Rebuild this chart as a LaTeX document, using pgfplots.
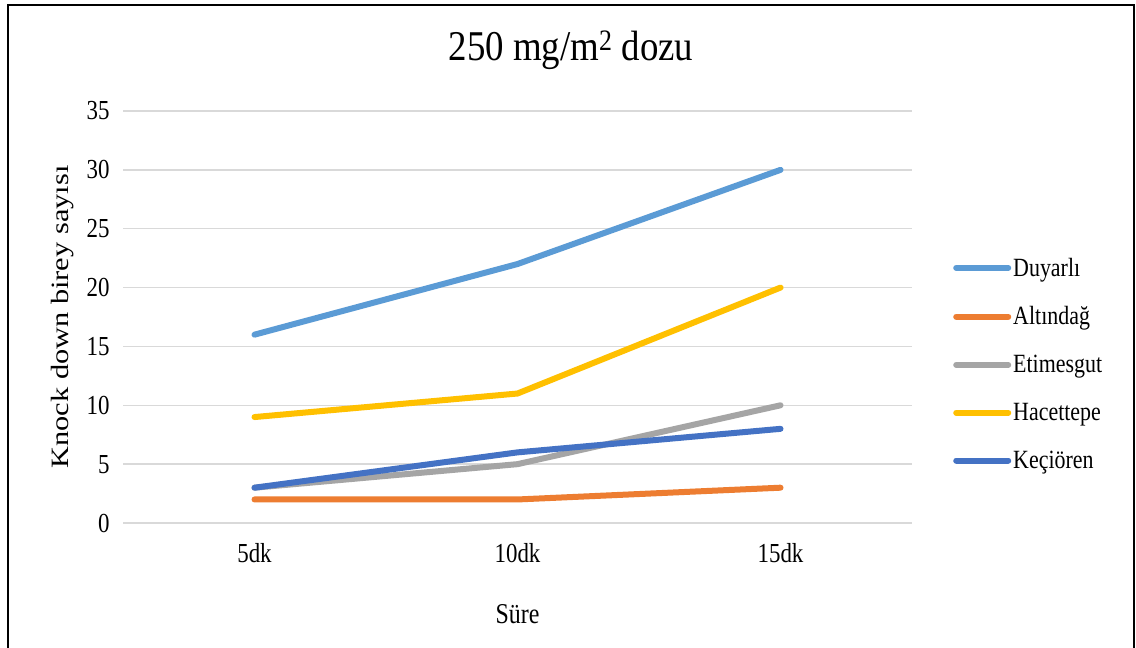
\documentclass[border=0pt]{standalone}
\usepackage{fontspec}
\setmainfont{Liberation Serif}
\usepackage{graphicx}
\usepackage{pgfplots}
\pgfplotsset{compat=1.18}
\definecolor{cDuy}{HTML}{5B9BD5}
\definecolor{cAlt}{HTML}{ED7D31}
\definecolor{cEti}{HTML}{A5A5A5}
\definecolor{cHac}{HTML}{FFC000}
\definecolor{cKec}{HTML}{4472C4}
\definecolor{cGrid}{HTML}{D9D9D9}
\newcommand{\vs}[1]{\scalebox{1}[1.2]{#1}}
\begin{document}
\begin{tikzpicture}[x=1bp,y=1bp]
\useasboundingbox (0,0) rectangle (1136,-648);
\fill[white] (0,0) rectangle (1136,-648);
\draw[line width=2.5bp, black] (8,-660) -- (8,-5) -- (1134,-5) -- (1134,-660);
\node[font=\fontsize{37}{40}\selectfont] at (571,-50) {\scalebox{1}[1.15]{250 mg/m\textsuperscript{2} dozu}};
\begin{axis}[
  at={(123bp,-523bp)}, anchor=south west,
  width=789bp, height=412bp, scale only axis,
  xmin=-0.5, xmax=2.5, ymin=0, ymax=35,
  xtick={0,1,2}, xticklabels={\vs{5dk},\vs{10dk},\vs{15dk}},
  ytick={0,5,...,35},
  yticklabel={\vs{\pgfmathprintnumber{\tick}}},
  axis line style={draw=none},
  major tick length=0pt,
  ymajorgrids, grid style={cGrid, line width=1.5bp},
  /pgf/number format/assume math mode=true,
  tick label style={font=\fontsize{23}{25}\selectfont},
  yticklabel style={xshift=-10bp},
  xticklabel style={yshift=-17bp},
  xlabel={\vs{Süre}}, xlabel style={font=\fontsize{24}{26}\selectfont, yshift=-35bp},
  ylabel={\scalebox{1.22}[1]{Knock down birey sayısı}}, ylabel style={font=\fontsize{25}{27}\selectfont, yshift=6bp},
  legend style={at={(1.052,0.386)}, anchor=west, draw=none, fill=none,
    font=\fontsize{22}{24}\selectfont, row sep=25bp, inner sep=0pt,
    nodes={inner sep=2bp}},
  legend cell align=left,
  legend image code/.code={\draw[#1,line width=6bp,line cap=round] (0bp,0bp)--(52bp,0bp);},
  every axis plot/.append style={line width=6bp, line cap=round, line join=round},
  clip=false,
]
\addplot[cDuy] coordinates {(0,16) (1,22) (2,30)};
\addlegendentry{\vs{Duyarlı}}
\addplot[cAlt] coordinates {(0,2) (1,2) (2,3)};
\addlegendentry{\vs{Altındağ}}
\addplot[cEti] coordinates {(0,3) (1,5) (2,10)};
\addlegendentry{\vs{Etimesgut}}
\addplot[cHac] coordinates {(0,9) (1,11) (2,20)};
\addlegendentry{\vs{Hacettepe}}
\addplot[cKec] coordinates {(0,3) (1,6) (2,8)};
\addlegendentry{\vs{Keçiören}}
\end{axis}
\end{tikzpicture}
\end{document}
